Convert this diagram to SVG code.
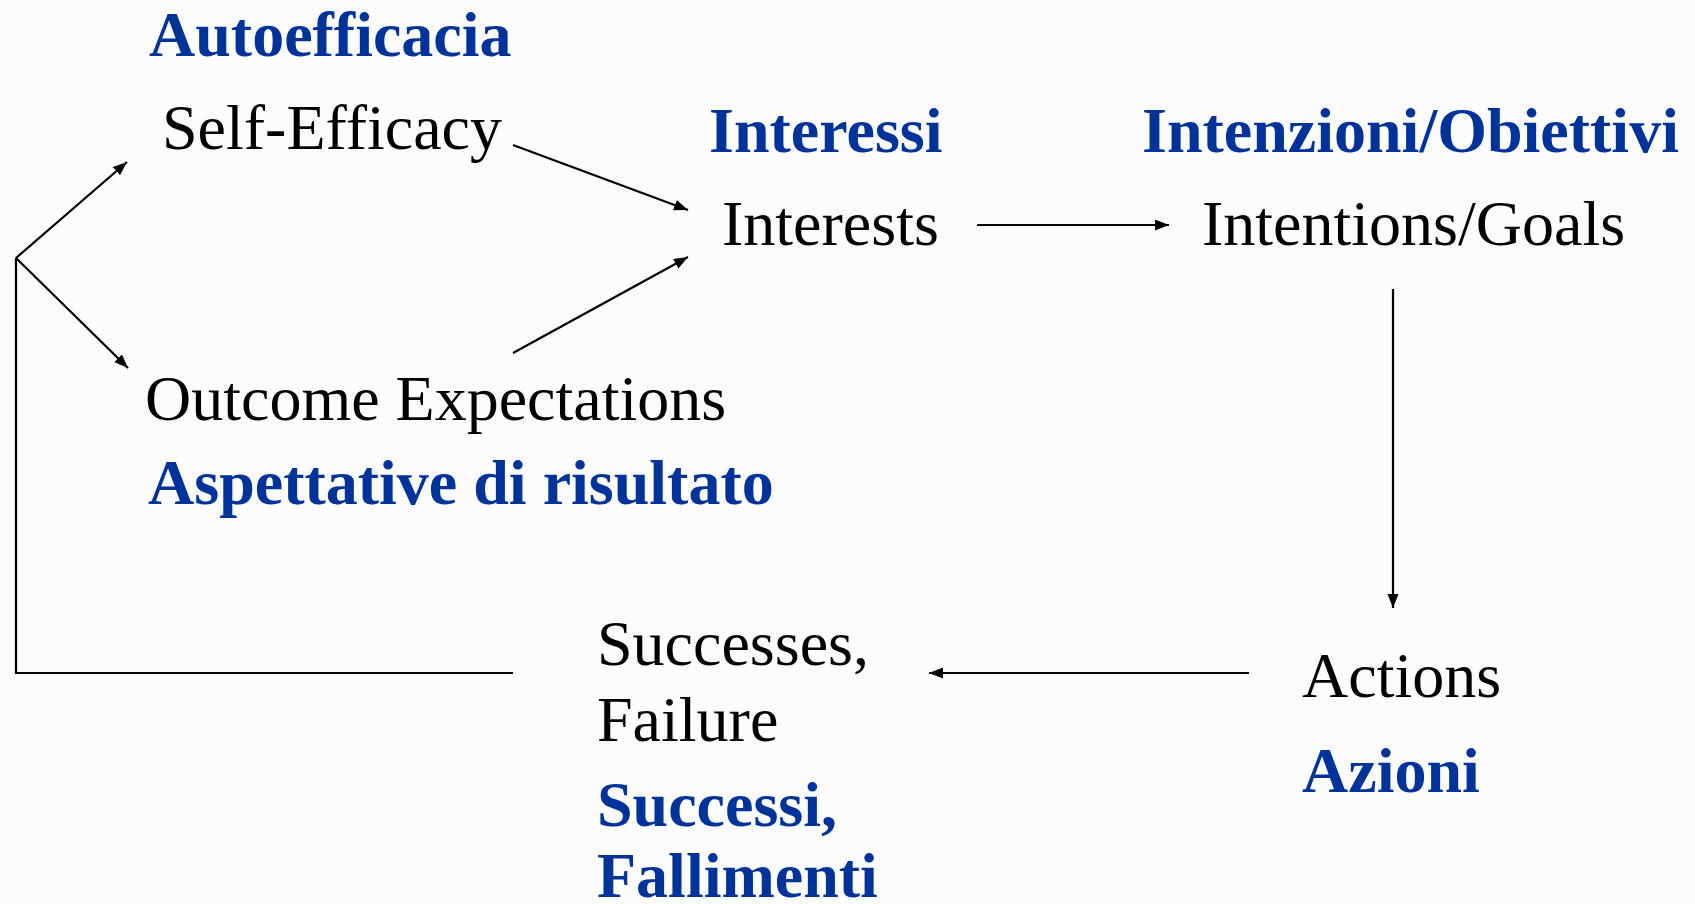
<svg xmlns="http://www.w3.org/2000/svg" width="1695" height="904" viewBox="0 0 1695 904">
<style>
.en{font-family:"Liberation Serif","Times New Roman",serif;font-size:64px;fill:#000}
.it{font-family:"Liberation Serif","Times New Roman",serif;font-size:64px;font-weight:bold;fill:#003399}
.ln{stroke:#000;stroke-width:2.2;fill:none}
</style>
<defs>
<marker id="ah" markerUnits="userSpaceOnUse" markerWidth="16" markerHeight="12" refX="14" refY="5.5" orient="auto">
<path d="M0,0 L14,5.5 L0,11 z" fill="#000"/>
</marker>
</defs>
<rect width="1695" height="904" fill="#fcfcfc"/>
<g id="connectors">
<polyline class="ln" points="513,673 16,673 16,258"/>
<line class="ln" x1="16" y1="258" x2="127" y2="162" marker-end="url(#ah)"/>
<line class="ln" x1="16" y1="258" x2="128" y2="368" marker-end="url(#ah)"/>
<line class="ln" x1="513" y1="145" x2="688" y2="210" marker-end="url(#ah)"/>
<line class="ln" x1="513" y1="353" x2="688" y2="257" marker-end="url(#ah)"/>
<line class="ln" x1="977" y1="225" x2="1169" y2="225" marker-end="url(#ah)"/>
<line class="ln" x1="1393" y1="289" x2="1393" y2="608" marker-end="url(#ah)"/>
<line class="ln" x1="1249" y1="673" x2="929" y2="673" marker-end="url(#ah)"/>
</g>
<g id="self-efficacy">
<text class="it" x="149" y="56">Autoefficacia</text>
<text class="en" x="162" y="149">Self-Efficacy</text>
</g>
<g id="interests">
<text class="it" x="709" y="152">Interessi</text>
<text class="en" x="722" y="245">Interests</text>
</g>
<g id="intentions">
<text class="it" x="1142" y="152">Intenzioni/Obiettivi</text>
<text class="en" x="1202" y="245">Intentions/Goals</text>
</g>
<g id="outcome-expectations">
<text class="en" x="145" y="420">Outcome Expectations</text>
<text class="it" x="148" y="504">Aspettative di risultato</text>
</g>
<g id="actions">
<text class="en" x="1302" y="697">Actions</text>
<text class="it" x="1302" y="792">Azioni</text>
</g>
<g id="successes">
<text class="en" x="597" y="665">Successes,</text>
<text class="en" x="597" y="741">Failure</text>
<text class="it" x="597" y="826">Successi,</text>
<text class="it" x="597" y="897">Fallimenti</text>
</g>
</svg>
